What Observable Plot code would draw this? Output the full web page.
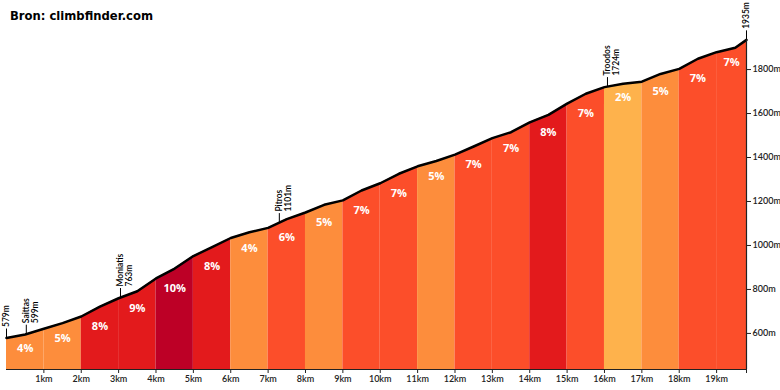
<!DOCTYPE html>
<html><head><meta charset="utf-8">
<script src="https://cdn.jsdelivr.net/npm/d3@7"></script>
<script src="https://cdn.jsdelivr.net/npm/@observablehq/plot@0.6"></script>
<style>
body{margin:0;background:#fff;}
#wrap{position:relative;width:780px;height:390px;}
#title{position:absolute;left:10px;top:9px;font:bold 11.6px "DejaVu Sans";color:#000;z-index:2;}
svg{display:block;}
</style></head><body>
<div id="wrap"><div id="title">Bron: climbfinder.com</div></div>
<script>
// elevation profile (km, m)
const profileKm = [0,0.5,1,1.5,2,2.5,3,3.5,4,4.5,5,5.5,6,6.5,7,7.5,8,8.5,9,9.5,10,10.5,11,11.5,12,12.5,13,13.5,14,14.5,15,15.5,16,16.5,17,17.5,18,18.5,19,19.5,19.8];
const profileElev = [579,595,621,647,677,722,760,792,850,895,952,992,1034,1060,1080,1120,1150,1185,1205,1250,1283,1326,1360,1384,1413,1450,1488,1515,1560,1594,1645,1690,1720,1735,1745,1780,1803,1849,1879,1899,1935];
// per-km grade labels
const segStart = [0,1,2,3,4,5,6,7,8,9,10,11,12,13,14,15,16,17,18,19];
const segGrade = [4,5,8,9,10,8,4,6,5,7,7,5,7,7,8,7,2,5,7,7];
// named points
const markerKm = [0,0.53,3.05,7.3,16.08,19.8];
const markerName = ["","Saittas","Moniatis","Pitros","Troodos",""];
const markerElev = [579,599,763,1101,1724,1935];
// axis ticks
const xTicks = [1,2,3,4,5,6,7,8,9,10,11,12,13,14,15,16,17,18,19];
const yTicks = [600,800,1000,1200,1400,1600,1800];

const totalKm = profileKm[profileKm.length-1];
const yMin = 436, yMax = 2114;

const profile = profileKm.map((k,i)=>({km:k, elev:profileElev[i]}));
const interp = k => {
  for (let i=1;i<profile.length;i++){
    const a=profile[i-1], b=profile[i];
    if (k<=b.km) return a.elev + (b.elev-a.elev)*(k-a.km)/(b.km-a.km);
  }
  return profile[profile.length-1].elev;
};
const areaData = [];
segStart.forEach((s,i)=>{
  const e = Math.min(s+1,totalKm);
  profile.filter(p=>p.km>=s-1e-9 && p.km<=e+1e-9).forEach(p=>areaData.push({km:p.km, elev:p.elev, base:yMin, seg:i, grade:segGrade[i]}));
});
const segs = segStart.map((s,i)=>({mid:(s+Math.min(s+1,totalKm))/2, elev:interp(s), label:segGrade[i]+"%"}));
const markers = markerKm.map((k,i)=>({km:k, elev:interp(k), top:interp(k)+41, name:markerName[i], label:markerElev[i]+"m"}));
const named = markers.filter(d=>d.name);
const unnamed = markers.filter(d=>!d.name);
const axisFont = "Lato, 'DejaVu Sans', sans-serif";

const chart = Plot.plot({
  width:780, height:390,
  marginLeft:6, marginRight:34, marginTop:0, marginBottom:21,
  style:{fontFamily:axisFont, fontSize:"9px", background:"white", color:"#222"},
  x:{domain:[0,totalKm], axis:null},
  y:{domain:[yMin,yMax], axis:null},
  color:{type:"threshold", domain:[3,6,8,10], range:["#feb24c","#fd8d3c","#fc4e2a","#e31a1c","#bd0026"]},
  marks:[
    Plot.areaY(areaData,{x:"km", y1:"base", y2:"elev", z:"seg", fill:"grade"}),
    Plot.line(profile,{x:"km", y:"elev", stroke:"#000", strokeWidth:2.5, strokeLinejoin:"round"}),
    Plot.ruleY([yMin],{stroke:"#222", strokeWidth:1}),
    Plot.ruleX([totalKm],{y1:yMin, y2:profileElev[profileElev.length-1], stroke:"#222", strokeWidth:1.2}),
    Plot.axisX({ticks:xTicks.concat([totalKm]), tickFormat:d=>d===totalKm?"":d+"km", tickSize:4, tickPadding:2, fontSize:9, fontWeight:600, label:null}),
    Plot.axisY({anchor:"right", ticks:yTicks, tickFormat:d=>d+"m", tickSize:4, tickPadding:2, fontSize:9, fontWeight:600, label:null}),
    Plot.text(segs,{x:"mid", y:"elev", text:"label", dy:10, fill:"white", fontSize:11, fontWeight:700, fontFamily:"'Open Sans', sans-serif"}),
    Plot.ruleX(markers,{x:"km", y1:"elev", y2:"top", stroke:"#000", strokeWidth:1}),
    Plot.text(named,{x:"km", y:"elev", text:"name", rotate:-90, textAnchor:"start", dy:-11, dx:0, fontSize:8.5, fontWeight:600, fill:"#000"}),
    Plot.text(named,{x:"km", y:"elev", text:"label", rotate:-90, textAnchor:"start", dy:-11, dx:9, fontSize:8.5, fontWeight:600, fill:"#000"}),
    Plot.text(unnamed,{x:"km", y:"elev", text:"label", rotate:-90, textAnchor:"start", dy:-11, dx:0, fontSize:8.5, fontWeight:600, fill:"#000"})
  ]
});
document.getElementById("wrap").appendChild(chart);
</script>
</body></html>
